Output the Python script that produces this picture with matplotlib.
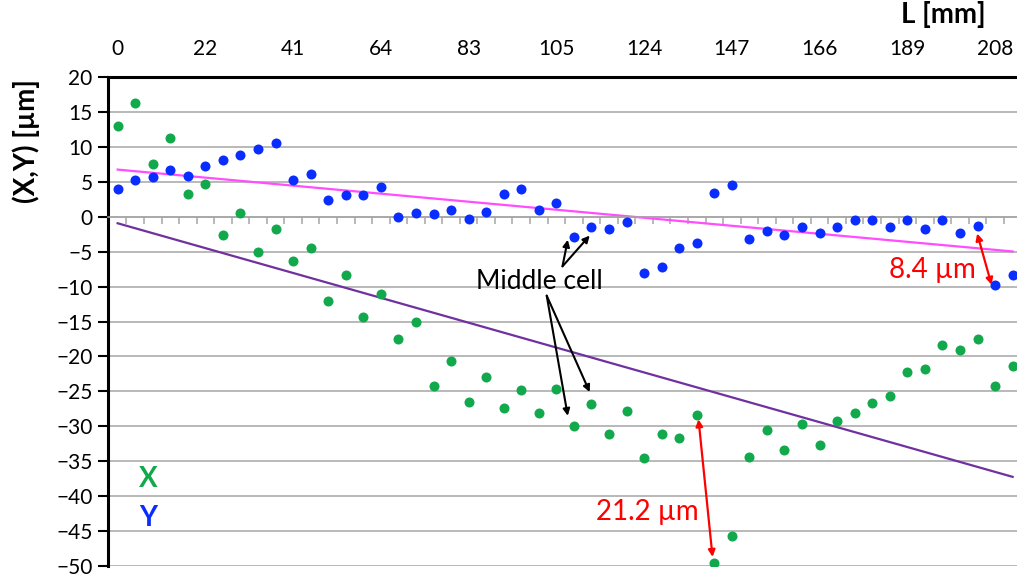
import numpy as np
import matplotlib
matplotlib.use("Agg")
import matplotlib.pyplot as plt
from matplotlib.ticker import FixedLocator, MultipleLocator

plt.rcParams['font.family'] = ['Lato', 'DejaVu Sans']

# Measurement points along the cell string (category axis, labels every 5th point)
L_labels = ['0', '22', '41', '64', '83', '105', '124', '147', '166', '189', '208']

x_dev = [13.0, 16.3, 7.6, 11.2, 3.3, 4.7, -2.6, 0.6, -5.0, -1.7,
         -6.4, -4.5, -12.0, -8.4, -14.4, -11.0, -17.5, -15.0, -24.2, -20.7,
         -26.5, -22.9, -27.4, -24.8, -28.1, -24.6, -30.0, -26.8, -31.1, -27.8,
         -34.6, -31.1, -31.7, -28.4, -49.5, -45.7, -34.4, -30.5, -33.4, -29.7,
         -32.7, -29.2, -28.1, -26.7, -25.6, -22.3, -21.8, -18.3, -19.1, -17.5,
         -24.3, -21.3]

y_dev = [4.0, 5.3, 5.7, 6.7, 5.8, 7.2, 8.1, 8.9, 9.7, 10.5,
         5.3, 6.1, 2.4, 3.1, 3.1, 4.2, 0.0, 0.6, 0.4, 1.0,
         -0.3, 0.7, 3.3, 3.9, 1.0, 1.9, -2.9, -1.5, -1.8, -0.7,
         -8.0, -7.2, -4.5, -3.7, 3.4, 4.5, -3.2, -2.1, -2.6, -1.5,
         -2.4, -1.5, -0.4, -0.4, -1.5, -0.4, -1.8, -0.5, -2.4, -1.4,
         -9.8, -8.3]

green = '#12a84c'
blue = '#0a2dff'

idx = np.arange(len(x_dev))

fig = plt.figure(figsize=(10.17, 5.81), dpi=100)
ax = fig.add_axes([108 / 1017, 15 / 581, 909 / 1017, 489 / 581])

# linear trend lines (Excel style)
for vals, col in [(x_dev, '#7030a0'), (y_dev, '#ff4dff')]:
    k, b = np.polyfit(idx, vals, 1)
    ax.plot(idx, k * idx + b, color=col, lw=1.6, zorder=2)

ax.scatter(idx, x_dev, s=52, color=green, zorder=3, linewidths=0)
ax.scatter(idx, y_dev, s=52, color=blue, zorder=3, linewidths=0)

ax.set_xlim(-0.55, 51.25)
ax.set_ylim(-50, 20)

# axes styling
ax.yaxis.set_major_locator(MultipleLocator(5))
ax.grid(axis='y', color='#a6a6a6', lw=1.1)
ax.set_axisbelow(True)
ax.spines['right'].set_visible(False)
ax.spines['left'].set_linewidth(2.2)
ax.spines['top'].set_linewidth(2.2)
ax.spines['bottom'].set_position(('data', 0))
ax.spines['bottom'].set_color('#a6a6a6')
ax.spines['bottom'].set_linewidth(1.1)

ax.xaxis.set_major_locator(FixedLocator(idx[::5]))
ax.set_xticklabels(L_labels)
ax.xaxis.set_minor_locator(FixedLocator(np.arange(len(idx) + 1) - 0.5))
ax.tick_params(axis='x', which='major', length=0, labeltop=True,
               labelbottom=False, labelsize=15, pad=13)
ax.tick_params(axis='x', which='minor', bottom=True, top=False, length=5,
               color='#a6a6a6', width=1.1, direction='out')
ax.tick_params(axis='y', length=7, width=1.5, labelsize=15, pad=4)

fig.text(26 / 1017, 1 - 141 / 581, '(X,Y) [µm]', fontsize=20, fontweight='bold',
         rotation=90, ha='center', va='center')
fig.text(943 / 1017, 1 - 14 / 581, 'L [mm]', fontsize=20, fontweight='bold',
         ha='center', va='center')

# series labels
ax.text(1.75, -37.6, 'X', color=green, fontsize=20, fontweight='bold', ha='center', va='center')
ax.text(1.75, -43.1, 'Y', color=blue, fontsize=20, fontweight='bold', ha='center', va='center')

# middle cell callout
ax.text(24.05, -9.3, 'Middle cell', fontsize=19, ha='center', va='center')
black_arrow = dict(arrowstyle='-|>', color='black', lw=1.5, mutation_scale=10,
                   shrinkA=0, shrinkB=0)
for tx, ty, hx, hy in [(25.35, -7.1, 25.65, -3.3), (25.35, -7.1, 26.9, -2.7),
                       (24.45, -11.3, 25.65, -28.5), (24.45, -11.3, 26.9, -25.1)]:
    ax.annotate('', xy=(hx, hy), xytext=(tx, ty), arrowprops=black_arrow)

# deviation callouts
red_arrow = dict(arrowstyle='<|-|>', color='#ff0000', lw=1.6, mutation_scale=10,
                 shrinkA=0, shrinkB=0)
ax.annotate('', xy=(48.98, -2.4), xytext=(49.8, -9.75), arrowprops=red_arrow)
ax.text(46.4, -7.6, '8.4 µm', color='#ff0000', fontsize=20, ha='center', va='center')
ax.annotate('', xy=(33.1, -29.0), xytext=(33.9, -48.7), arrowprops=red_arrow)
ax.text(30.2, -42.3, '21.2 µm', color='#ff0000', fontsize=20, ha='center', va='center')

fig.savefig('out.png', dpi=100)
